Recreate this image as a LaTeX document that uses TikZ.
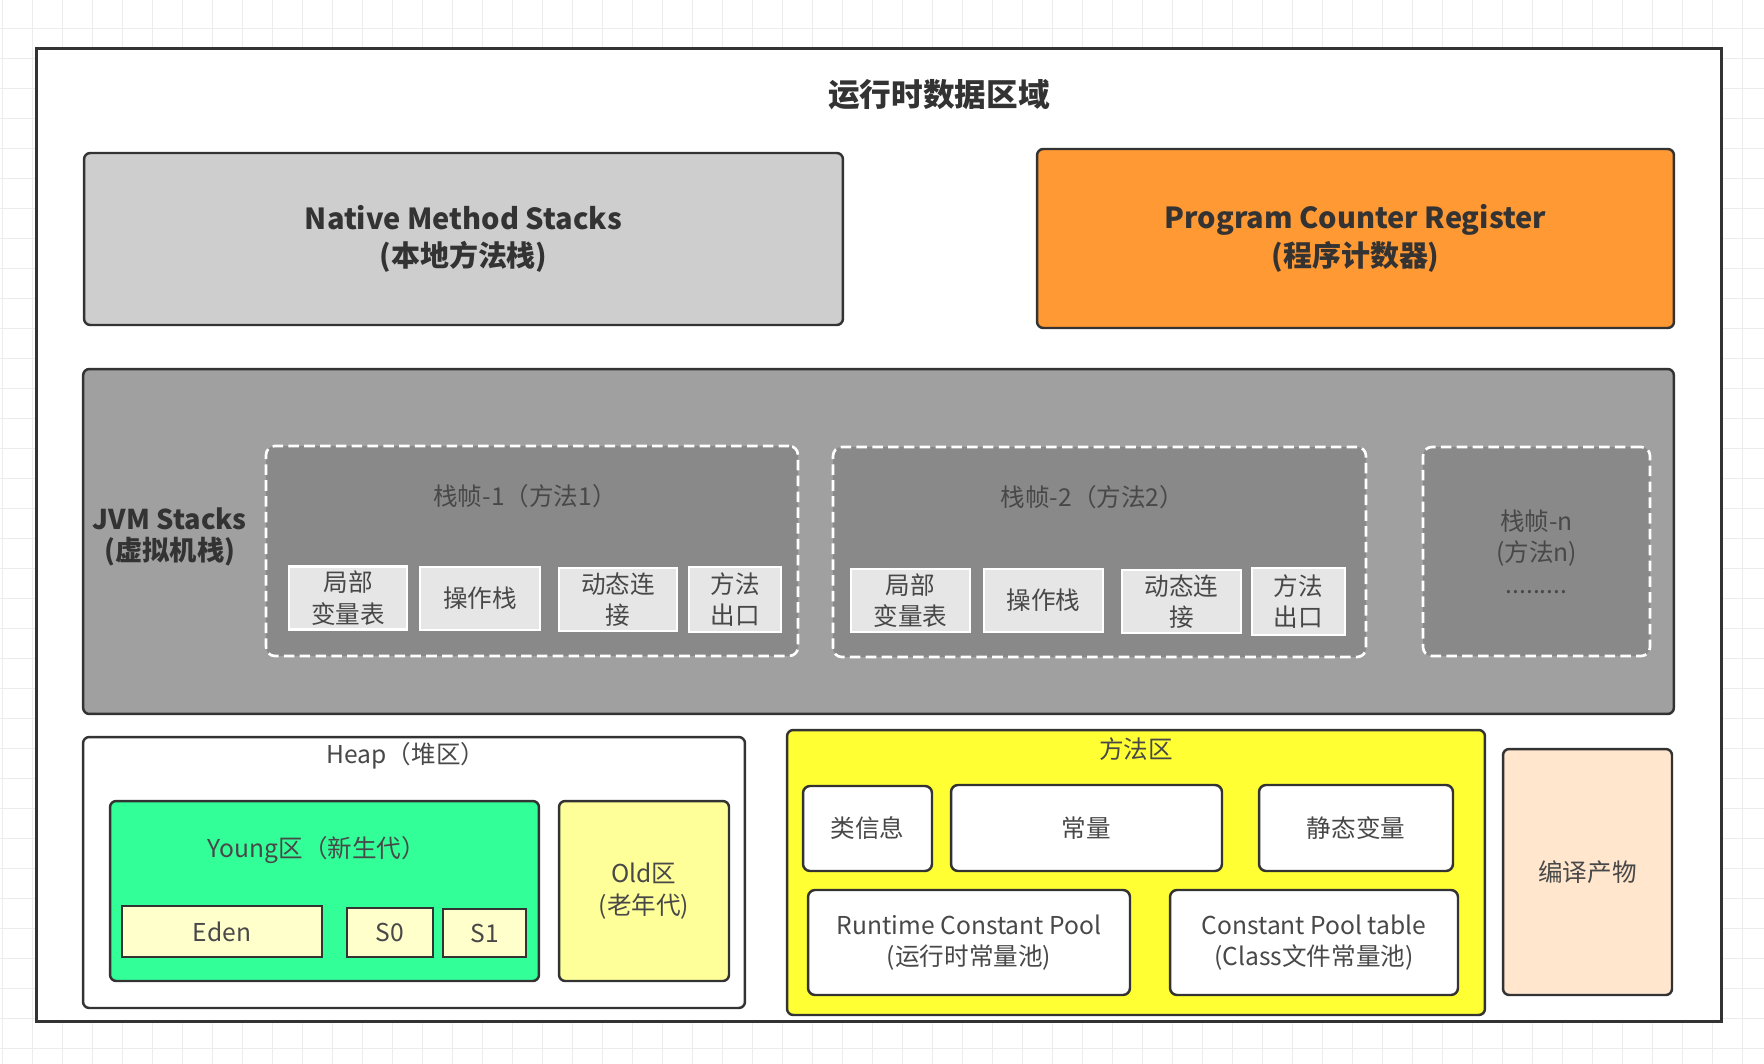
\documentclass[tikz,border=0pt]{standalone}
\usepackage{fontspec}
\setmainfont{Noto Sans CJK SC}
\usetikzlibrary{positioning}
\definecolor{gridgray}{RGB}{236,236,236}
\definecolor{linedark}{RGB}{51,51,51}
\definecolor{txtdark}{RGB}{51,51,51}
\definecolor{txtgray}{RGB}{72,72,72}
\definecolor{nativegray}{RGB}{206,206,206}
\definecolor{pcorange}{RGB}{255,153,51}
\definecolor{jvmgray}{RGB}{160,160,160}
\definecolor{stackgray}{RGB}{137,137,137}
\definecolor{cellgray}{RGB}{230,230,230}
\definecolor{younggreen}{RGB}{51,255,153}
\definecolor{oldyellow}{RGB}{255,255,153}
\definecolor{edenyellow}{RGB}{255,255,204}
\definecolor{methodyellow}{RGB}{255,255,51}
\definecolor{compilepeach}{RGB}{255,230,204}

\begin{document}
\begin{tikzpicture}[
  x=0.02cm, y=-0.02cm,
  font=\fontsize{14}{18}\selectfont,
  text=txtgray,
  gridline/.style={draw=gridgray, line width=0.8pt},
  outer/.style={draw=linedark, line width=1.7pt, fill=white, inner sep=0pt},
  region/.style={draw=linedark, line width=1.4pt, rounded corners=3.5pt, align=center, inner sep=0pt},
  headtxt/.style={font=\fontsize{16.5}{21.5}\selectfont\bfseries, text=txtdark, align=center},
  subtitle/.style={align=center},
  framebox/.style={draw=white, line width=1.5pt, dash pattern=on 6pt off 3pt, rounded corners=5pt, fill=stackgray, align=center, inner sep=0pt},
  cellbox/.style={draw=white, line width=1.2pt, fill=cellgray, align=center, inner sep=0pt, minimum height=1.26cm},
  smallbox/.style={draw=linedark, line width=1.4pt, fill=edenyellow, inner sep=0pt},
  whitebox/.style={region, fill=white, rounded corners=4pt}
]

% Canvas and grid
\useasboundingbox (0,0) rectangle (1764,1064);
\fill[white] (0,0) rectangle (1764,1064);
\foreach \gx in {2.7,32.7,...,1764} \draw[gridline] (\gx,0) -- (\gx,1064);
\foreach \gy in {28.3,58.3,...,1064} \draw[gridline] (0,\gy) -- (1764,\gy);

% Runtime data area
\node[outer, minimum width=33.72cm, minimum height=19.48cm] (rda) at (879,535) {};
\node[font=\fontsize{18}{22}\selectfont\bfseries, text=txtdark] (rdatitle) at ([xshift=1.2cm, yshift=-0.96cm]rda.north) {运行时数据区域};

% Native stacks and PC register
\node[region, headtxt, fill=nativegray, minimum width=15.18cm, minimum height=3.44cm] (native) at (463.5,239)
  {Native Method Stacks\\(本地方法栈)};
\node[region, headtxt, fill=pcorange, minimum width=12.74cm, minimum height=3.58cm] (pcr) at (1355.5,238.5)
  {Program Counter Register\\(程序计数器)};

% JVM stacks
\node[region, fill=jvmgray, minimum width=31.82cm, minimum height=6.9cm] (jvm) at (878.5,541.5) {};
\node[headtxt, font=\fontsize{15.5}{18}\selectfont\bfseries] (jvmtitle) at ([xshift=1.76cm, yshift=0.09cm]jvm.west) {JVM Stacks\\(虚拟机栈)};

\node[framebox, minimum width=10.64cm, minimum height=4.2cm] (frame1) at (532,551) {};
\node[subtitle] (frame1title) at ([xshift=-0.14cm, yshift=-1.02cm]frame1.north) {栈帧-1（方法1）};
\node[cellbox, minimum width=2.36cm] (lv1) at (348,598) {局部\\变量表};
\node[cellbox, minimum width=2.4cm] (os1) at (480,598.5) {操作栈};
\node[cellbox, minimum width=2.36cm] (dl1) at (618,599.5) {动态连\\接};
\node[cellbox, minimum width=1.84cm, minimum height=1.3cm] (mx1) at (735,599.5) {方法\\出口};

\node[framebox, minimum width=10.66cm, minimum height=4.2cm] (frame2) at (1099.5,552) {};
\node[subtitle] (frame2title) at ([xshift=-0.14cm, yshift=-1.02cm]frame2.north) {栈帧-2（方法2）};
\node[cellbox, minimum width=2.38cm] (lv2) at (910.5,600.5) {局部\\变量表};
\node[cellbox, minimum width=2.38cm] (os2) at (1043.5,600.5) {操作栈};
\node[cellbox, minimum width=2.38cm] (dl2) at (1181.5,601.5) {动态连\\接};
\node[cellbox, minimum width=1.86cm, minimum height=1.34cm] (mx2) at (1298.5,601.5) {方法\\出口};

\node[framebox, minimum width=4.54cm, minimum height=4.18cm] (framen) at (1536.5,551.5) {栈帧-n\\(方法n)\\.........};

% Heap
\node[region, fill=white, minimum width=13.24cm, minimum height=5.42cm] (heap) at (414,872.5) {};
\node[subtitle] (heaptitle) at ([xshift=-0.16cm, yshift=-0.4cm]heap.north) {Heap（堆区）};
\node[region, fill=younggreen, minimum width=8.58cm, minimum height=3.6cm] (young) at (324.5,891) {};
\node[subtitle] (youngtitle) at ([xshift=-0.15cm, yshift=-1.0cm]young.north) {Young区（新生代）};
\node[smallbox, minimum width=4.0cm, minimum height=1.02cm] (eden) at (222,931.5) {Eden};
\node[smallbox, minimum width=1.72cm, minimum height=0.98cm] (s0) at (390,932.5) {S0};
\node[smallbox, minimum width=1.66cm, minimum height=0.96cm] (s1) at (484.5,933) {S1};
\node[region, fill=oldyellow, minimum width=3.4cm, minimum height=3.6cm] (old) at (644,891) {Old区\\(老年代)};

% Method area
\node[region, fill=methodyellow, minimum width=13.96cm, minimum height=5.7cm] (method) at (1136,872.5) {};
\node[subtitle] (methodtitle) at ([yshift=-0.4cm]method.north) {方法区};
\node[whitebox, minimum width=2.58cm, minimum height=1.7cm] (classinfo) at (867.5,828.5) {类信息};
\node[whitebox, minimum width=5.42cm, minimum height=1.72cm] (const) at (1086.5,828) {常量};
\node[whitebox, minimum width=3.88cm, minimum height=1.72cm] (staticvar) at (1356,828) {静态变量};
\node[whitebox, minimum width=6.44cm, minimum height=2.1cm] (rcp) at (969,942.5) {Runtime Constant Pool\\(运行时常量池)};
\node[whitebox, minimum width=5.76cm, minimum height=2.1cm] (cpt) at (1314,942.5) {Constant Pool table\\(Class文件常量池)};

% Compiled output
\node[region, fill=compilepeach, minimum width=3.38cm, minimum height=4.92cm] (compiled) at (1587.5,872) {编译产物};

\end{tikzpicture}
\end{document}
